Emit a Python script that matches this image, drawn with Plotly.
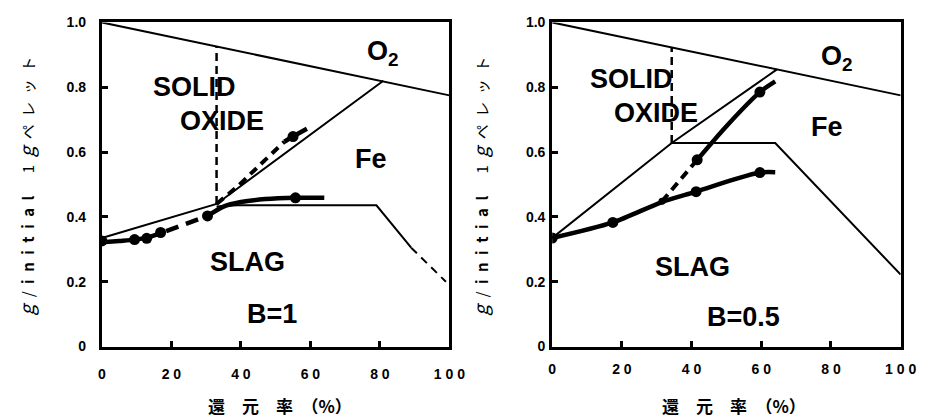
import plotly.graph_objects as go

# ---------------- axis ticks ----------------
X_TICKS = [0, 20, 40, 60, 80, 100]
X_TICK_TEXT = ["0", "2 0", "4 0", "6 0", "8 0", "1 0 0"]
Y_TICKS = [0, 0.2, 0.4, 0.6, 0.8, 1.0]
Y_TICK_TEXT = ["0", "0.2", "0.4", "0.6", "0.8", "1.0"]

# ---------------- B = 1 panel ----------------
b1_o2_x = [0, 100]
b1_o2_y = [1.0, 0.775]
b1_oxide_x = [0, 33, 81]
b1_oxide_y = [0.335, 0.44, 0.82]
b1_div_x = [33, 33]
b1_div_y = [0.44, 0.927]
b1_slag_x = [33, 39, 79, 89]
b1_slag_y = [0.432, 0.436, 0.436, 0.305]
b1_slagdash_x = [89, 99]
b1_slagdash_y = [0.305, 0.2]
b1_low1_x = [0, 5, 9.4, 12.9, 16.9]
b1_low1_y = [0.322, 0.326, 0.33, 0.336, 0.35]
b1_lowdash_x = [18.5, 30.4]
b1_lowdash_y = [0.356, 0.403]
b1_low2_x = [30.4, 35, 40, 47, 55.7, 64]
b1_low2_y = [0.403, 0.432, 0.446, 0.455, 0.459, 0.459]
b1_lowpts_x = [0, 9.4, 12.9, 16.9, 30.4, 55.7]
b1_lowpts_y = [0.326, 0.33, 0.334, 0.352, 0.403, 0.459]
b1_updash_x = [33, 39.4, 43, 52.5]
b1_updash_y = [0.44, 0.498, 0.535, 0.632]
b1_up2_x = [52.5, 55, 59]
b1_up2_y = [0.632, 0.648, 0.672]
b1_uppts_x = [55]
b1_uppts_y = [0.648]

# ---------------- B = 0.5 panel ----------------
b05_o2_x = [0, 100]
b05_o2_y = [1.0, 0.775]
b05_oxide_x = [0, 34.3, 64.5]
b05_oxide_y = [0.335, 0.628, 0.855]
b05_div_x = [34.3, 34.3]
b05_div_y = [0.628, 0.922]
b05_slag_x = [34.3, 64, 100]
b05_slag_y = [0.628, 0.628, 0.222]
b05_low_x = [0, 17.4, 31.5, 41.3, 52, 59.6, 64]
b05_low_y = [0.335, 0.383, 0.446, 0.478, 0.515, 0.537, 0.538]
b05_lowpts_x = [0, 17.4, 41.3, 59.6]
b05_lowpts_y = [0.335, 0.383, 0.478, 0.537]
b05_smallpt_x = [31.5]
b05_smallpt_y = [0.448]
b05_updash_x = [31.5, 36.5, 41.6]
b05_updash_y = [0.448, 0.51, 0.576]
b05_up2_x = [41.6, 50, 59.6, 64]
b05_up2_y = [0.576, 0.68, 0.785, 0.818]
b05_uppts_x = [41.6, 59.6]
b05_uppts_y = [0.576, 0.785]

# region labels: (text, x, y)
b1_labels = [("SOLID", 26.6, 0.80), ("OXIDE", 34.7, 0.695), ("O<sub>2</sub>", 81, 0.905),
             ("Fe", 77.5, 0.58), ("SLAG", 41.8, 0.26), ("B=1", 49, 0.10)]
b05_labels = [("SOLID", 22.8, 0.825), ("OXIDE", 29.8, 0.72), ("O<sub>2</sub>", 81.7, 0.89),
              ("Fe", 79, 0.677), ("SLAG", 40.4, 0.246), ("B=0.5", 55, 0.092)]

X_TITLE = "還\u2003元\u2003率\u2002（%）"
G = '<span style="font-size:19px"><i>g</i></span>'
Y_TITLE = (G + "\u2002/\u2002<b>i\u2002n\u2002i\u2002t\u2002i\u2002a\u2002l</b>\u2003\u2002"
           "1\u2002" + G + "\u2002ペ\u2002レ\u2002ッ\u2002ト")

W, H = 948, 420
BLACK = "black"
fig = go.Figure()


def add_line(x, y, xa, ya, width=2, dash="solid", spline=False):
    fig.add_trace(go.Scatter(
        x=x, y=y, xaxis=xa, yaxis=ya, mode="lines",
        line=dict(color=BLACK, width=width, dash=dash,
                  shape="spline" if spline else "linear", smoothing=0.8),
        hoverinfo="skip", showlegend=False))


def add_pts(x, y, xa, ya, size=11):
    fig.add_trace(go.Scatter(
        x=x, y=y, xaxis=xa, yaxis=ya, mode="markers",
        marker=dict(color=BLACK, size=size), hoverinfo="skip", showlegend=False))


# left panel
xa, ya = "x", "y"
add_line(b1_o2_x, b1_o2_y, xa, ya, 2)
add_line(b1_oxide_x, b1_oxide_y, xa, ya, 2)
add_line(b1_div_x, b1_div_y, xa, ya, 2.5, "8px,5px")
add_line(b1_slag_x, b1_slag_y, xa, ya, 2)
add_line(b1_slagdash_x, b1_slagdash_y, xa, ya, 2, "8px,6px")
add_line(b1_low1_x, b1_low1_y, xa, ya, 4.5, spline=True)
add_line(b1_lowdash_x, b1_lowdash_y, xa, ya, 4.5, "13px,8px")
add_line(b1_low2_x, b1_low2_y, xa, ya, 4.5, spline=True)
add_line(b1_updash_x, b1_updash_y, xa, ya, 4, "9px,6px", spline=True)
add_line(b1_up2_x, b1_up2_y, xa, ya, 4.5, spline=True)
add_pts(b1_lowpts_x, b1_lowpts_y, xa, ya)
add_pts(b1_uppts_x, b1_uppts_y, xa, ya)

# right panel
xa, ya = "x2", "y2"
add_line(b05_o2_x, b05_o2_y, xa, ya, 2)
add_line(b05_oxide_x, b05_oxide_y, xa, ya, 2)
add_line(b05_div_x, b05_div_y, xa, ya, 2.5, "8px,5px")
add_line(b05_slag_x, b05_slag_y, xa, ya, 2)
add_line(b05_low_x, b05_low_y, xa, ya, 4.5, spline=True)
add_line(b05_updash_x, b05_updash_y, xa, ya, 4, "9px,6px")
add_line(b05_up2_x, b05_up2_y, xa, ya, 4.5, spline=True)
add_pts(b05_lowpts_x, b05_lowpts_y, xa, ya)
add_pts(b05_smallpt_x, b05_smallpt_y, xa, ya, 7)
add_pts(b05_uppts_x, b05_uppts_y, xa, ya)

ydom = [1 - 352 / H, 1 - 15 / H]
tickfont = dict(family="Liberation Sans", size=14, color=BLACK, weight="bold")
common_x = dict(range=[0, 100], tickvals=X_TICKS, ticktext=X_TICK_TEXT,
                ticks="inside", ticklen=6, tickwidth=3, tickcolor=BLACK,
                showline=True, linewidth=3, linecolor=BLACK, mirror=True,
                showgrid=False, zeroline=False, tickfont=tickfont, fixedrange=True)
common_y = dict(range=[0, 1.0], tickvals=Y_TICKS, ticktext=Y_TICK_TEXT,
                ticks="inside", ticklen=6, tickwidth=3, tickcolor=BLACK,
                showline=True, linewidth=3, linecolor=BLACK, mirror=True,
                showgrid=False, zeroline=False, tickfont=tickfont, fixedrange=True)

fig.update_layout(
    width=W, height=H, margin=dict(l=0, r=0, t=0, b=0),
    paper_bgcolor="white", plot_bgcolor="white", showlegend=False,
    xaxis=dict(domain=[100 / W, 455 / W], anchor="y", ticklabelstandoff=13, **common_x),
    yaxis=dict(domain=ydom, anchor="x", ticklabelstandoff=10, **common_y),
    xaxis2=dict(domain=[560 / W, 916 / W], anchor="y2", ticklabelstandoff=8, **common_x),
    yaxis2=dict(domain=ydom, anchor="x2", ticklabelstandoff=1, **common_y),
)

labfont = dict(family="Liberation Sans", size=27, color=BLACK, weight="bold")
for (t, x, y) in b1_labels:
    fig.add_annotation(text=t, x=x, y=y, xref="x", yref="y", showarrow=False, font=labfont)
for (t, x, y) in b05_labels:
    fig.add_annotation(text=t, x=x, y=y, xref="x2", yref="y2", showarrow=False, font=labfont)

tfont = dict(family="Noto Sans CJK JP", size=17, color=BLACK, weight="bold")
for cx in [282, 746]:
    fig.add_annotation(text=X_TITLE, x=cx / W, y=1 - 413 / H, xref="paper", yref="paper",
                       xanchor="center", yanchor="middle", showarrow=False, font=tfont)
for cx in [22, 486]:
    fig.add_annotation(text=Y_TITLE, x=cx / W, y=1 - 185 / H, xref="paper", yref="paper",
                       xanchor="center", yanchor="middle", showarrow=False, textangle=-90,
                       font=dict(family="Noto Sans CJK JP", size=15, color=BLACK))

fig.write_html("out.html")
